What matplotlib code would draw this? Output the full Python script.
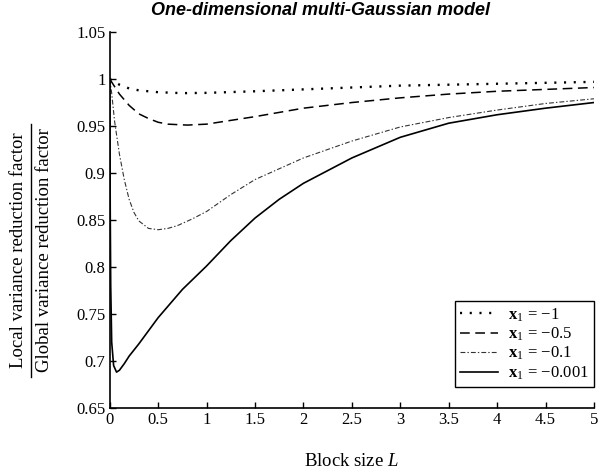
import matplotlib
matplotlib.use('Agg')
import matplotlib.pyplot as plt
from matplotlib.ticker import FormatStrFormatter, MultipleLocator
from matplotlib.lines import Line2D

plt.rcParams['font.family'] = 'Liberation Serif'
plt.rcParams['mathtext.fontset'] = 'custom'
plt.rcParams['mathtext.rm'] = 'Liberation Serif'
plt.rcParams['mathtext.it'] = 'Liberation Serif:italic'
plt.rcParams['mathtext.bf'] = 'Liberation Serif:bold'
plt.rcParams['lines.scale_dashes'] = False

# block size L and variance ratio, one list per curve
L_m1 = [0, 0.1, 0.2, 0.3, 0.5, 0.75, 1.0, 1.5, 2.0, 2.5, 3.0, 3.5, 4.0, 4.5, 5.0]
v_m1 = [1.0, 0.994, 0.990, 0.988, 0.986, 0.985, 0.9853, 0.987, 0.989, 0.991,
        0.993, 0.994, 0.995, 0.996, 0.997]

L_m05 = [0, 0.1, 0.2, 0.3, 0.4, 0.5, 0.6, 0.8, 1.0, 1.25, 1.5, 2.0, 2.5, 3.0,
         3.5, 4.0, 4.5, 5.0]
v_m05 = [1.0, 0.984, 0.972, 0.963, 0.958, 0.954, 0.952, 0.951, 0.952, 0.956,
         0.960, 0.969, 0.975, 0.980, 0.984, 0.987, 0.989, 0.991]

L_m01 = [0, 0.02, 0.05, 0.1, 0.15, 0.2, 0.25, 0.3, 0.4, 0.5, 0.6, 0.7, 0.85,
         1.0, 1.25, 1.5, 2.0, 2.5, 3.0, 3.5, 4.0, 4.5, 5.0]
v_m01 = [1.0, 0.985, 0.955, 0.920, 0.893, 0.872, 0.858, 0.849, 0.841, 0.8396,
         0.841, 0.844, 0.851, 0.859, 0.877, 0.893, 0.916, 0.934, 0.949, 0.959,
         0.967, 0.974, 0.979]

L_m0001 = [0, 0.005, 0.01, 0.02, 0.04, 0.07, 0.1, 0.15, 0.2, 0.3, 0.4, 0.5,
           0.6, 0.75, 1.0, 1.25, 1.5, 1.75, 2.0, 2.5, 3.0, 3.5, 4.0, 4.5, 5.0]
v_m0001 = [1.0, 0.86, 0.78, 0.72, 0.695, 0.688, 0.690, 0.697, 0.705, 0.718,
           0.732, 0.746, 0.758, 0.776, 0.801, 0.828, 0.852, 0.872, 0.889,
           0.916, 0.938, 0.953, 0.962, 0.969, 0.975]

labels = [r'$\mathbf{x}_1\,=\,{-}1$', r'$\mathbf{x}_1\,=\,{-}0.5$',
          r'$\mathbf{x}_1\,=\,{-}0.1$', r'$\mathbf{x}_1\,=\,{-}0.001$']

fig = plt.figure(figsize=(6.03, 4.72), dpi=100)
ax = fig.add_axes([0.182, 0.136, 0.803, 0.796])

ax.plot(L_m1, v_m1, color='black', lw=1.7, linestyle=(0, (1.5, 5.5)),
        dash_capstyle='butt', label=labels[0])
ax.plot(L_m05, v_m05, color='black', lw=1.1, linestyle=(0, (7, 4)),
        label=labels[1])
ax.plot(L_m01, v_m01, color='#333333', lw=0.8,
        linestyle=(0, (3.5, 1.5, 1, 1.5)), label=labels[2])
ax.plot(L_m0001, v_m0001, color='black', lw=1.2, label=labels[3])

ax.set_xlim(0, 5)
ax.set_ylim(0.65, 1.05)
ax.xaxis.set_major_locator(MultipleLocator(0.5))
ax.yaxis.set_major_locator(MultipleLocator(0.05))
ax.xaxis.set_major_formatter(FormatStrFormatter('%g'))
ax.yaxis.set_major_formatter(FormatStrFormatter('%g'))
ax.spines['top'].set_visible(False)
ax.spines['right'].set_visible(False)
for s in ('left', 'bottom'):
    ax.spines[s].set_linewidth(1.2)
ax.tick_params(direction='in', length=4, width=1, labelsize=12, pad=3)

leg = ax.legend(loc='lower right', bbox_to_anchor=(1.0, 0.056), fontsize=12,
                fancybox=False, framealpha=1, edgecolor='black',
                handlelength=2.3, handletextpad=0.6, borderaxespad=0.0,
                labelspacing=0.12, borderpad=0.3)
leg.get_frame().set_linewidth(1.0)

ax.set_xlabel(r'Block size $\mathit{L}$', fontsize=13.5, labelpad=18)

# y label drawn as a fraction
yc = 0.47
fig.text(0.031, yc, 'Local variance reduction factor', rotation=90,
         ha='center', va='center', fontsize=13.5)
fig.text(0.073, yc, 'Global variance reduction factor', rotation=90,
         ha='center', va='center', fontsize=13.5)
fig.add_artist(Line2D([0.051, 0.051], [yc - 0.268, yc + 0.268], color='black',
                      lw=1.0, transform=fig.transFigure))

fig.text(0.532, 0.977, 'One-dimensional multi-Gaussian model', ha='center',
         va='center', fontsize=13, fontweight='bold', fontstyle='italic',
         family='Liberation Sans')

fig.savefig('out.png', dpi=100)
